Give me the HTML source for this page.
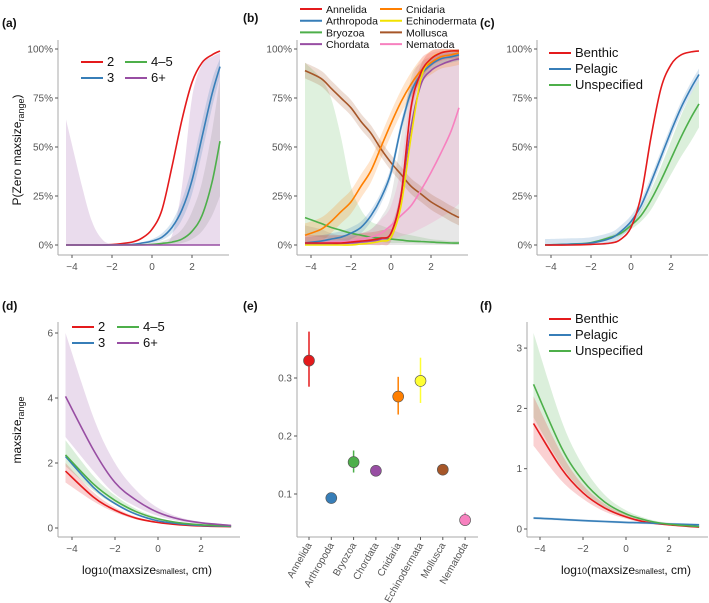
<!DOCTYPE html>
<html><head><meta charset="utf-8">
<style>
html,body{margin:0;padding:0;background:#fff;}
svg{display:block;font-family:"Liberation Sans",Arial,sans-serif;}
</style></head>
<body>
<svg id="fig" width="709" height="603" viewBox="0 0 709 603" xmlns="http://www.w3.org/2000/svg"></svg>
<script>
// ---------- DATA ----------
const gridA = [-4.3,-3.5,-3,-2.5,-2,-1,-0.5,0,0.5,1,1.5,2,2.5,3,3.4];
const a2   = [0,0,0,0,0.2,1.5,3.5,8,18,40,64,83,93,97,99];
const a3   = [0,0,0,0,0,0.3,1,2,4,9,18,33,55,77,91];
const a45  = [0,0,0,0,0,0,0.1,0.3,0.8,1.5,3,7,15,32,53];
const a6   = [0,0,0,0,0,0,0,0,0,0,0,0,0,0,0];
const a6Hi = [64,30,12,3,0.5,0,0,0,1,5,30,75,92,96,98];
const a3Hi = [0,0,0,0,0,0.5,1.5,3,6,12,23,40,63,84,95];
const a3Lo = [0,0,0,0,0,0.1,0.5,1,2.5,6,13,26,47,70,86];
const a45Hi= [0,0,0,0,0,0.2,0.4,1,2,4,8,17,32,58,85];
const a45Lo= [0,0,0,0,0,0,0,0.1,0.3,0.5,1,3,7,15,25];

const gridB = [-4.3,-3.5,-3,-2.5,-2,-1.5,-1,-0.5,0,0.5,1,1.5,2,2.5,3,3.4];
const bAnn  = [1,1,1,1,1.5,2,2.5,3.5,6,25,70,88,95,98,99,99];
const bArt  = [1,2,3,4,6,9,15,24,37,60,78,87,92,95,96,97];
const bBry  = [14,11,9,7.5,6,5,4,3.5,3,2.5,2,1.8,1.5,1.2,1,1];
const bBryHi= [93,85,75,55,30,18,12,10,8,6,5,4,3,2.5,2,2];
const bBryLo= [5,4,3,2.5,2,2,1.5,1.5,1,1,1,0.8,0.6,0.5,0.4,0.3];
const bCho  = [0.5,0.5,0.6,0.8,1,1.5,2,3,6,25,60,82,89,92,94,95];
const bChoHi= [10,8,6,5,5,6,8,14,25,55,85,93,96,97,98,98];
const bCnid = [5,8,12,17,22,30,38,50,62,73,82,89,93,96,97,98];
const bEch  = [0,0,0,0,0,0.5,1,2,4,20,55,85,95,98,99,99];
const bMol  = [89,85,80,75,70,63,57,49,42,36,30,26,22,19,16,14];
const bNem  = [1,1,1.5,1.5,2,3,4,6,10,15,20,28,37,47,58,70];
const bNemHi= [2,2,3,3,4,6,8,13,20,40,80,95,98,99,99,99];

const gridC = [-4.3,-3,-2,-1,-0.5,0,0.5,1,1.5,2,2.5,3,3.4];
const cBen  = [0,0,0.3,1,3,9,25,55,80,92,97,98.5,99];
const cPel  = [0,0.4,1,3.5,7,12,20,32,45,58,70,80,87];
const cUns  = [0,0.5,1.2,4,6,10,15,23,33,44,55,65,72];
const cUnsHi= [0,0.6,1.5,5,7.5,12,18,28,40,53,66,77,84];
const cUnsLo= [0,0.4,1,3,5,8,12,18,27,36,45,53,60];

const gridD = [-4.3,-3,-2,-1,0,1,2,3.4];
const d2   = [1.75,0.95,0.55,0.3,0.17,0.1,0.06,0.04];
const d3   = [2.2,1.25,0.75,0.42,0.22,0.13,0.08,0.05];
const d45  = [2.25,1.35,0.85,0.5,0.28,0.16,0.1,0.06];
const d6   = [4.05,2.4,1.4,0.85,0.48,0.27,0.16,0.08];
const d6Hi = [6.0,3.4,2.0,1.15,0.62,0.33,0.19,0.1];
const d6Lo = [2.8,1.75,1.05,0.65,0.37,0.21,0.13,0.06];
const d45Hi= [2.7,1.6,1.0,0.58,0.32,0.18,0.11,0.07];
const d45Lo= [1.9,1.15,0.72,0.43,0.24,0.14,0.09,0.05];
const d2Hi = [2.0,1.1,0.63,0.34,0.19,0.11,0.07,0.05];
const d2Lo = [1.4,0.82,0.48,0.26,0.15,0.09,0.05,0.03];

const fBen  = [1.75,1.0,0.6,0.35,0.2,0.11,0.07,0.03];
const fBenHi= [2.2,1.25,0.73,0.42,0.24,0.13,0.08,0.04];
const fBenLo= [1.38,0.8,0.5,0.29,0.17,0.09,0.06,0.02];
const fPel  = [0.18,0.16,0.14,0.125,0.11,0.1,0.085,0.07];
const fUns  = [2.4,1.35,0.8,0.45,0.25,0.14,0.08,0.04];
const fUnsHi= [3.25,1.8,1.05,0.57,0.31,0.17,0.1,0.06];
const fUnsLo= [1.85,1.05,0.63,0.36,0.2,0.11,0.06,0.02];

const eCats = ["Annelida","Arthropoda","Bryozoa","Chordata","Cnidaria","Echinodermata","Mollusca","Nematoda"];
const eVals = [0.33,0.093,0.155,0.14,0.268,0.295,0.142,0.055];
const eLo   = [0.285,0.09,0.137,0.137,0.237,0.257,0.139,0.045];
const eHi   = [0.38,0.097,0.175,0.143,0.302,0.335,0.146,0.068];
const eCols = ["#e41a1c","#377eb8","#4daf4a","#984ea3","#ff7f00","#ffff33","#a65628","#f781bf"];

const pctTicks = ["0%","25%","50%","75%","100%"];
const xTickVals = [-4,-2,0,2];

// ---------- HELPERS ----------
const NS="http://www.w3.org/2000/svg";
const svg=document.getElementById('fig');
function mk(tag,attrs,parent){const e=document.createElementNS(NS,tag);for(const k in attrs)e.setAttribute(k,attrs[k]);(parent||svg).appendChild(e);return e;}
function smooth(pts){
  let d="M"+pts[0][0].toFixed(1)+","+pts[0][1].toFixed(1);
  for(let i=0;i<pts.length-1;i++){
    const p0=pts[Math.max(0,i-1)],p1=pts[i],p2=pts[i+1],p3=pts[Math.min(pts.length-1,i+2)];
    const c1=[p1[0]+(p2[0]-p0[0])/6,p1[1]+(p2[1]-p0[1])/6];
    const c2=[p2[0]-(p3[0]-p1[0])/6,p2[1]-(p3[1]-p1[1])/6];
    d+="C"+c1[0].toFixed(1)+","+c1[1].toFixed(1)+" "+c2[0].toFixed(1)+","+c2[1].toFixed(1)+" "+p2[0].toFixed(1)+","+p2[1].toFixed(1);
  }
  return d;
}
function tail(pts){return smooth(pts).replace(/^M/,"L");}
function line(P,grid,vals,col,name){
  const pts=grid.map((x,i)=>[P.sx(x),P.sy(vals[i])]);
  const e=mk('path',{d:smooth(pts),fill:'none',stroke:col,'stroke-width':1.6});
  
  
}
function band(P,grid,lo,hi,col,op,name){
  const up=grid.map((x,i)=>[P.sx(x),P.sy(hi[i])]);
  const dn=grid.map((x,i)=>[P.sx(x),P.sy(lo[i])]).reverse();
  const e=mk('path',{d:smooth(up)+tail(dn)+"Z",fill:col,'fill-opacity':op,stroke:'none'});
  
  
}
function axes(P,yTicks,yLabels,xTicks,name){
  const g=mk('g',{});
  
  
  mk('line',{x1:P.ax,y1:P.top,x2:P.ax,y2:P.xy,stroke:'#aaa','stroke-width':1},g);
  mk('line',{x1:P.ax,y1:P.xy,x2:P.right,y2:P.xy,stroke:'#aaa','stroke-width':1},g);
  yTicks.forEach((v,i)=>{
    const y=P.sy(v);
    mk('line',{x1:P.ax-3,y1:y,x2:P.ax,y2:y,stroke:'#555','stroke-width':1},g);
    const t=mk('text',{x:P.ax-5,y:y+3.5,'text-anchor':'end','font-size':10,fill:'#555'},g);
    t.textContent=yLabels[i];
    
    
  });
  (xTicks||[]).forEach(v=>{
    const x=P.sx(v);
    mk('line',{x1:x,y1:P.xy,x2:x,y2:P.xy+3,stroke:'#555','stroke-width':1},g);
    const t=mk('text',{x:x,y:P.xy+15,'text-anchor':'middle','font-size':10,fill:'#555'},g);
    t.textContent=v<0?"\u2212"+Math.abs(v):String(v);
    
    
  });
}
function legendItem(x,y,col,label,fs){
  const g=mk('g',{});
  
  
  mk('line',{x1:x,y1:y,x2:x+22,y2:y,stroke:col,'stroke-width':2},g);
  const t=mk('text',{x:x+26,y:y+4,'font-size':fs,fill:'#111'},g);
  t.textContent=label;
}
function panelLabel(x,y,s){
  const t=mk('text',{x:x,y:y,'font-size':12,'font-weight':'bold',fill:'#111'});
  t.textContent=s;
  
  
}
function pctPanel(x0,ax){return {sx:x=>x0+x*20,sy:v=>245-v*1.96,ax:ax,top:40,xy:255,right:ax+171};}
const pctVals=[0,25,50,75,100];
const RED="#e41a1c",BLUE="#377eb8",GREEN="#4daf4a",PURPLE="#984ea3",ORANGE="#ff7f00",YEL="#f2e200",BROWN="#a65628",PINK="#f781bf";

// ---------- PANEL A ----------
const PA=pctPanel(152,58);
axes(PA,pctVals,pctTicks,xTickVals,'panel-a-axes');
band(PA,gridA,a6,a6Hi,PURPLE,0.2,'band-6plus');
band(PA,gridA,a45Lo,a45Hi,'#888',0.2,'band-4-5');
band(PA,gridA,a3Lo,a3Hi,BLUE,0.2,'band-3');
line(PA,gridA,a2,RED,'line-2');
line(PA,gridA,a3,BLUE,'line-3');
line(PA,gridA,a45,GREEN,'line-4-5');
line(PA,gridA,a6,PURPLE,'line-6plus');
legendItem(81,62,RED,"2",13);legendItem(125,62,GREEN,"4\u20135",13);
legendItem(81,78,BLUE,"3",13);legendItem(125,78,PURPLE,"6+",13);
panelLabel(2,27,"(a)");
{const t=mk('text',{transform:'translate(21,150) rotate(-90)','text-anchor':'middle','font-size':12,fill:'#111'});
t.innerHTML='P(Zero maxsize<tspan font-size="9" dy="3">range</tspan><tspan dy="-3">)</tspan>';
}

// ---------- PANEL B ----------
const PB=pctPanel(391,297);
axes(PB,pctVals,pctTicks,xTickVals,'panel-b-axes');
band(PB,gridB,bBryLo,bBryHi,GREEN,0.18,'band-bryozoa');
band(PB,gridB,a6.concat([0]).map(()=>0),bChoHi,'#888',0.2,'band-chordata');
band(PB,gridB,bNem.map(v=>v*0.3),bNemHi,PINK,0.2,'band-nematoda');
band(PB,gridB,bMol.map(v=>v-4),bMol.map(v=>v+4),BROWN,0.2,'band-mollusca');
band(PB,gridB,bCnid.map(v=>Math.max(0,v-6)),bCnid.map(v=>Math.min(100,v+6)),ORANGE,0.2,'band-cnidaria');
band(PB,gridB,bArt.map(v=>Math.max(0,v-3)),bArt.map(v=>Math.min(100,v+3)),BLUE,0.2,'band-arthropoda');
band(PB,gridB,bAnn.map(v=>Math.max(0,v-4)),bAnn.map(v=>Math.min(100,v+4)),RED,0.2,'band-annelida');
line(PB,gridB,bBry,GREEN,'line-bryozoa');
line(PB,gridB,bMol,BROWN,'line-mollusca');
line(PB,gridB,bNem,PINK,'line-nematoda');
line(PB,gridB,bCnid,ORANGE,'line-cnidaria');
line(PB,gridB,bArt,BLUE,'line-arthropoda');
line(PB,gridB,bCho,PURPLE,'line-chordata');
line(PB,gridB,bEch,YEL,'line-echinodermata');
line(PB,gridB,bAnn,RED,'line-annelida');
[["Annelida",RED],["Arthropoda",BLUE],["Bryozoa",GREEN],["Chordata",PURPLE]].forEach((c,i)=>legendItem(300,9+i*11.7,c[1],c[0],10.5));
[["Cnidaria",ORANGE],["Echinodermata",YEL],["Mollusca",BROWN],["Nematoda",PINK]].forEach((c,i)=>legendItem(380,9+i*11.7,c[1],c[0],10.5));
panelLabel(243,22,"(b)");

// ---------- PANEL C ----------
const PC=pctPanel(631,537);
axes(PC,pctVals,pctTicks,xTickVals,'panel-c-axes');
band(PC,gridC,cUnsLo,cUnsHi,GREEN,0.2,'band-unspecified');
band(PC,gridC,cPel.map(v=>Math.max(0,v-3)),cPel.map(v=>v+3),BLUE,0.2,'band-pelagic');
line(PC,gridC,cUns,GREEN,'line-unspecified');
line(PC,gridC,cPel,BLUE,'line-pelagic');
line(PC,gridC,cBen,RED,'line-benthic');
legendItem(549,53,RED,"Benthic",13);legendItem(549,69,BLUE,"Pelagic",13);legendItem(549,85,GREEN,"Unspecified",13);
panelLabel(480,27,"(c)");

// ---------- PANEL D ----------
const PD={sx:x=>158+x*21.5,sy:v=>528-v*32.5,ax:58,top:322,xy:537,right:240};
axes(PD,[0,2,4,6],["0","2","4","6"],xTickVals,'panel-d-axes');
band(PD,gridD,d6Lo,d6Hi,PURPLE,0.2,'band-6plus');
band(PD,gridD,d45Lo,d45Hi,GREEN,0.2,'band-4-5');
band(PD,gridD,d2Lo,d2Hi,RED,0.2,'band-2');
line(PD,gridD,d2,RED,'line-2');
line(PD,gridD,d3,BLUE,'line-3');
line(PD,gridD,d45,GREEN,'line-4-5');
line(PD,gridD,d6,PURPLE,'line-6plus');
legendItem(72,327,RED,"2",13);legendItem(117,327,GREEN,"4\u20135",13);
legendItem(72,343,BLUE,"3",13);legendItem(117,343,PURPLE,"6+",13);
panelLabel(2,310,"(d)");
{const t=mk('text',{transform:'translate(21,430) rotate(-90)','text-anchor':'middle','font-size':12,fill:'#111'});
t.innerHTML='maxsize<tspan font-size="9" dy="3">range</tspan>';
}
function xTitle(cx,name){const t=mk('text',{x:cx,y:574,'text-anchor':'middle','font-size':12,fill:'#111'});
t.innerHTML='log<tspan font-size="9">10</tspan>(maxsize<tspan font-size="8">smallest</tspan>, cm)';
}
xTitle(147,'x-axis-title-d');

// ---------- PANEL E ----------
const PE={sx:i=>309+i*22.3,sy:v=>494-(v-0.1)*580,ax:297,top:322,xy:537,right:478};
axes(PE,[0.1,0.2,0.3],["0.1","0.2","0.3"],null,'panel-e-axes');
eCats.forEach((c,i)=>{
  const x=PE.sx(i);
  mk('line',{x1:x,y1:PE.xy,x2:x,y2:PE.xy+3,stroke:'#555'});
  const eb=mk('line',{x1:x,y1:PE.sy(eLo[i]),x2:x,y2:PE.sy(eHi[i]),stroke:eCols[i],'stroke-width':1.5});
  
  
  const p=mk('circle',{cx:x,cy:PE.sy(eVals[i]),r:5.5,fill:eCols[i],stroke:'#555','stroke-width':0.6});
  
  
  const t=mk('text',{transform:`translate(${x+3},${PE.xy+8}) rotate(-60)`,'text-anchor':'end','font-size':10,fill:'#555'});
  t.textContent=c;
  
  
});
panelLabel(243,310,"(e)");

// ---------- PANEL F ----------
const PF={sx:x=>626+x*21.5,sy:v=>529-v*60.3,ax:527,top:322,xy:537,right:708};
axes(PF,[0,1,2,3],["0","1","2","3"],xTickVals,'panel-f-axes');
band(PF,gridD,fUnsLo,fUnsHi,GREEN,0.2,'band-unspecified');
band(PF,gridD,fBenLo,fBenHi,RED,0.2,'band-benthic');
band(PF,gridD,fPel.map(v=>v-0.02),fPel.map(v=>v+0.02),BLUE,0.2,'band-pelagic');
line(PF,gridD,fBen,RED,'line-benthic');
line(PF,gridD,fPel,BLUE,'line-pelagic');
line(PF,gridD,fUns,GREEN,'line-unspecified');
legendItem(549,319,RED,"Benthic",13);legendItem(549,335,BLUE,"Pelagic",13);legendItem(549,351,GREEN,"Unspecified",13);
panelLabel(480,310,"(f)");
xTitle(626,'x-axis-title-f');
</script>
</body></html>
